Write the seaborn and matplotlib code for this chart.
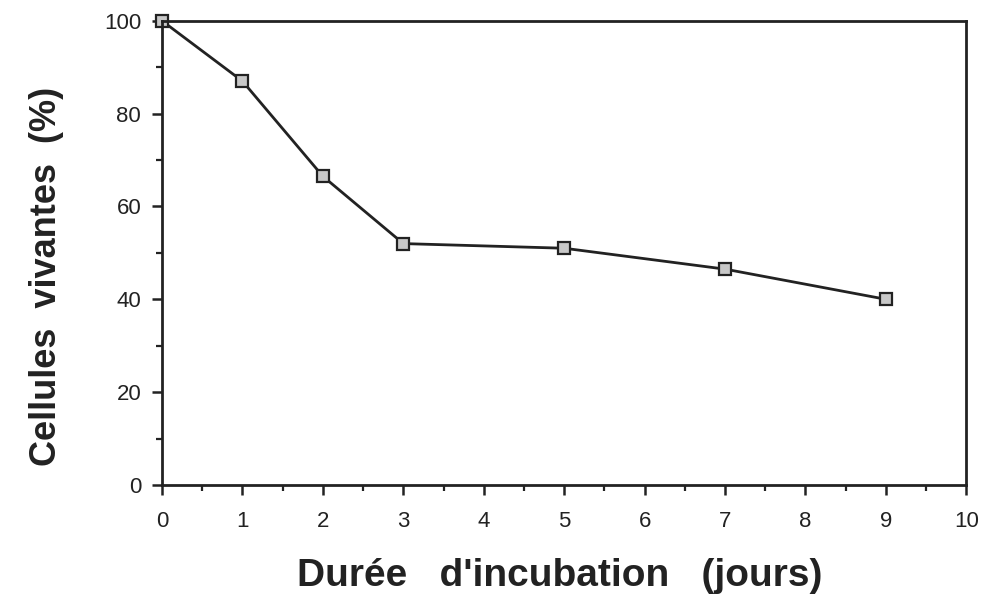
import numpy as np
import pandas as pd
import matplotlib
matplotlib.use("Agg")
import matplotlib.pyplot as plt
from matplotlib.ticker import MultipleLocator
import seaborn as sns

# Data
days = [0, 1, 2, 3, 5, 7, 9]
viable = [100, 87, 66.5, 52, 51, 46.5, 40]
x_ticks = [0, 1, 2, 3, 4, 5, 6, 7, 8, 9, 10]
y_ticks = [0, 20, 40, 60, 80, 100]
xlabel = "Durée   d'incubation   (jours)"
ylabel = "Cellules  vivantes  (%)"

sns.set_theme(style="white")
plt.rcParams['font.family'] = ['Liberation Sans', 'DejaVu Sans']

df = pd.DataFrame({"days": days, "viable": viable})

fig = plt.figure(figsize=(9.85, 5.95), dpi=100)
ax = fig.add_axes([0.1645, 0.185, 0.8165, 0.78])

sns.lineplot(data=df, x="days", y="viable", ax=ax, color="#222222",
             linewidth=2.0, marker="s", markersize=9,
             markerfacecolor="#c8c8c8", markeredgecolor="#222222",
             markeredgewidth=1.6, clip_on=False)

ax.set_xlim(0, 10)
ax.set_ylim(0, 100)
ax.set_xticks(x_ticks)
ax.set_yticks(y_ticks)
ax.xaxis.set_minor_locator(MultipleLocator(0.5))
ax.yaxis.set_minor_locator(MultipleLocator(10))
ax.tick_params(axis="both", which="major", direction="out", length=7,
               width=1.8, color="#222222", labelsize=16, labelcolor="#222222",
               bottom=True, left=True)
ax.tick_params(axis="x", which="major", pad=12)
ax.tick_params(axis="y", which="major", pad=8)
ax.tick_params(axis="both", which="minor", direction="out", length=4,
               width=1.6, color="#222222", bottom=True, left=True)

for s in ax.spines.values():
    s.set_color("#222222")
    s.set_linewidth(2.0)

ax.set_xlabel(xlabel, fontsize=28, fontweight="bold", color="#222222")
ax.set_ylabel(ylabel, fontsize=26, fontweight="bold", color="#222222")
ax.xaxis.set_label_coords(0.495, -0.158)
ax.yaxis.set_label_coords(-0.122, 0.45)

fig.savefig("out.png", dpi=100, facecolor="white")
